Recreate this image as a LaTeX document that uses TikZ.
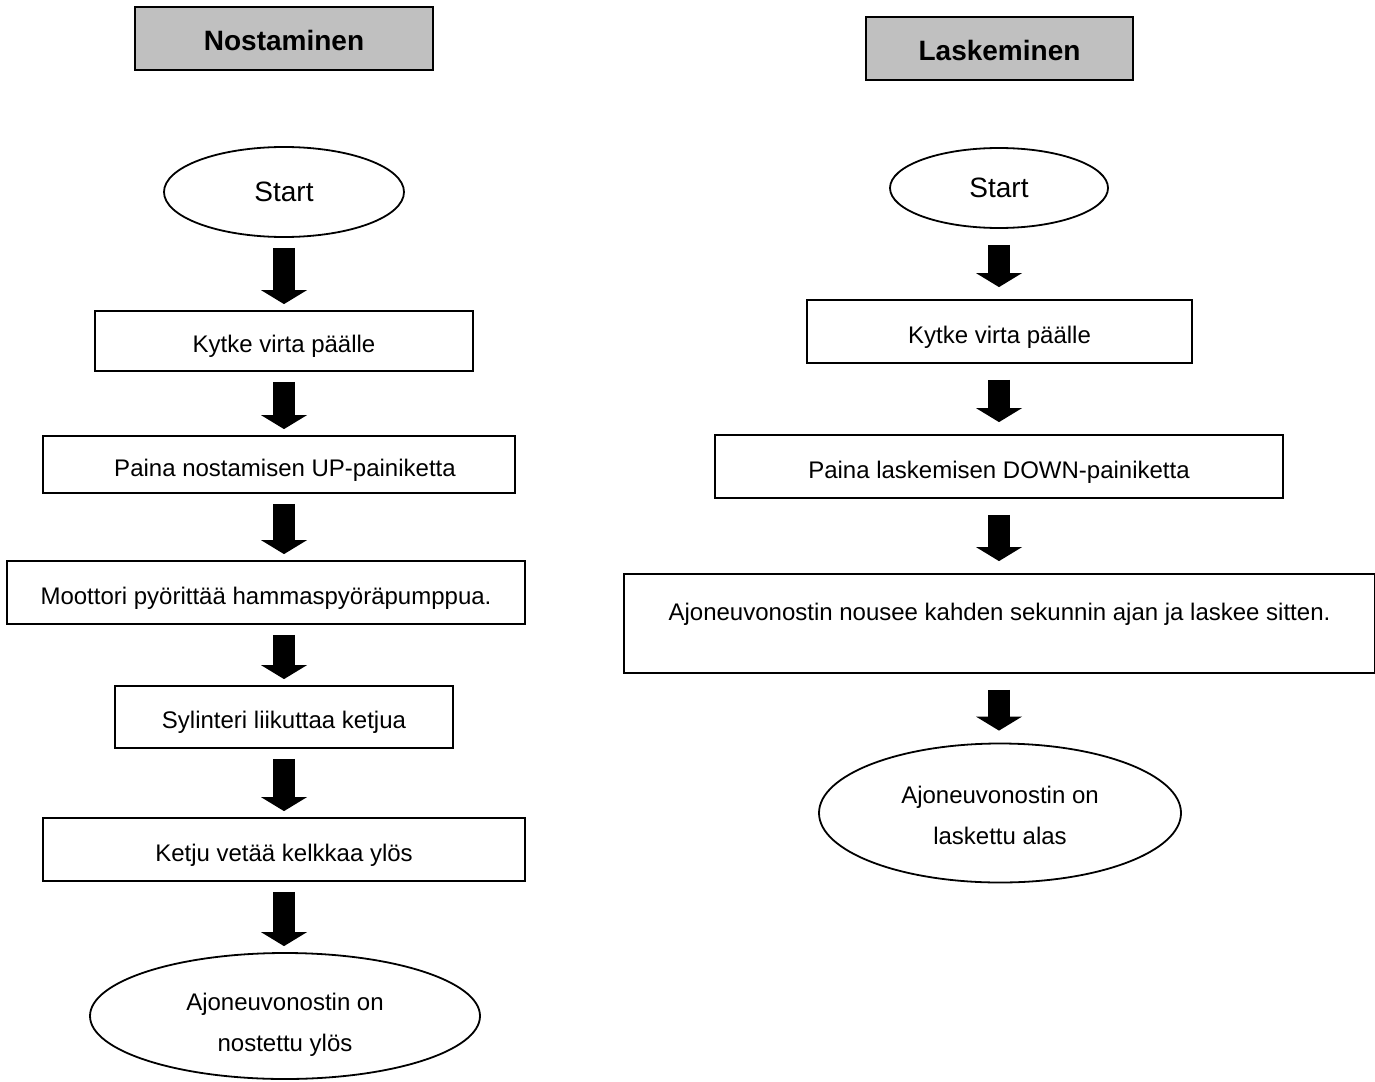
\documentclass[tikz,border=0pt]{standalone}
\usepackage{fontspec}
\setmainfont{Liberation Sans}
\usetikzlibrary{shapes.geometric,arrows.meta}

\definecolor{headgray}{RGB}{192,192,192}

\tikzset{
  box/.style={draw, line width=0.9pt, rectangle, inner sep=0pt, text height=14.1pt, text depth=2.5pt, font=\fontsize{12}{14.4}\selectfont},
  header/.style={box, fill=headgray, text height=12.5pt, text depth=0pt, font=\fontsize{14}{16.8}\selectfont\bfseries},
  term/.style={draw, line width=0.9pt, ellipse, inner sep=0pt, font=\fontsize{14}{16.8}\selectfont},
  endterm/.style={term, align=center, font=\fontsize{12}{20.5}\selectfont},
  flow/.style={line width=11pt, -{Triangle[length=7pt,width=23pt,line width=0pt]}},
}

\begin{document}
\begin{tikzpicture}[x=0.5pt, y=-0.5pt]
  \path[use as bounding box, fill=white] (0,0) rectangle (1375,1081);

  % Nostaminen
  \node[header, minimum width=149pt, minimum height=31.5pt] (lh) at (284,38.5) {Nostaminen};
  \node[term, minimum width=120pt, minimum height=45pt] (ls) at (284,192) {Start};
  \node[box, minimum width=189pt, minimum height=30pt] (l1) at (284,341) {Kytke virta päälle};
  \node[box, minimum width=236pt, minimum height=28.5pt] (l2) at (279,464.5) {\hspace{6pt}Paina nostamisen UP-painiketta};
  \node[box, minimum width=259pt, minimum height=31.5pt] (l3) at (266,592.5) {Moottori pyörittää hammaspyöräpumppua.};
  \node[box, minimum width=169pt, minimum height=31pt] (l4) at (284,717) {Sylinteri liikuttaa ketjua};
  \node[box, minimum width=241pt, minimum height=31.5pt] (l5) at (284,849.5) {Ketju vetää kelkkaa ylös};
  \node[endterm, minimum width=195pt, minimum height=63pt, text height=38pt] (le) at (285,1016) {Ajoneuvonostin on\\nostettu ylös};

  \foreach \a/\b in {ls/l1, l1/l2, l2/l3, l3/l4, l4/l5, l5/le}
    \draw[flow, shorten <=5pt, shorten >=3pt] (\a.south -| ls) -- (\b.north -| ls);

  % Laskeminen
  \node[header, minimum width=133.5pt, minimum height=31.5pt] (rh) at (999.5,48.5) {Laskeminen};
  \node[term, minimum width=109pt, minimum height=40pt] (rs) at (999,188) {Start};
  \node[box, minimum width=192.5pt, minimum height=31.5pt] (r1) at (999.5,331.5) {Kytke virta päälle};
  \node[box, minimum width=284pt, minimum height=31.5pt] (r2) at (999,466.5) {Paina laskemisen DOWN-painiketta};
  \node[box, minimum width=375.5pt, minimum height=49.5pt, text height=8pt, text depth=10.9pt] (r3) at (999.5,623.5) {Ajoneuvonostin nousee kahden sekunnin ajan ja laskee sitten.};
  \node[endterm, minimum width=181pt, minimum height=69.5pt, text height=32pt] (re) at (1000,813) {Ajoneuvonostin on\\laskettu alas};

  \foreach \a/\b in {rs/r1, r1/r2, r2/r3, r3/re}
    \draw[flow, shorten <=8pt, shorten >=6pt] (\a.south -| rs) -- (\b.north -| rs);
\end{tikzpicture}
\end{document}
